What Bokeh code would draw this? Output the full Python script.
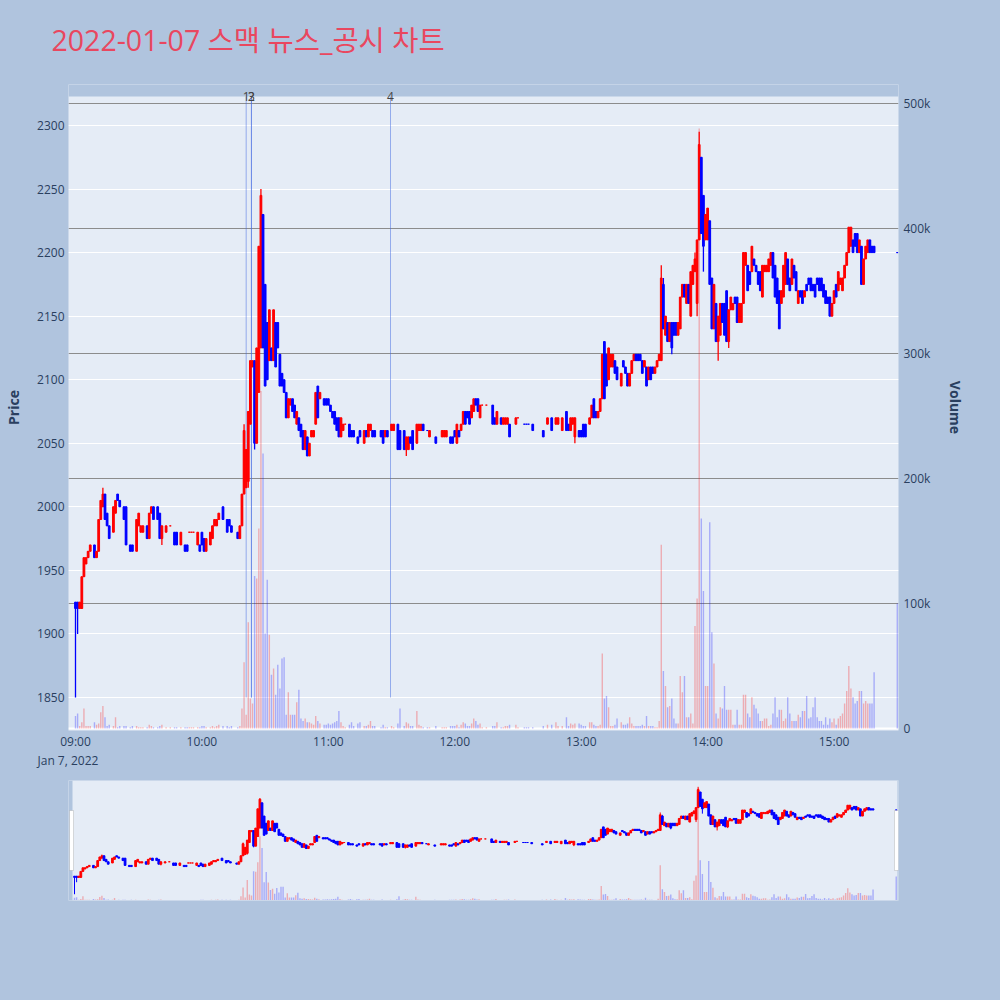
from datetime import datetime, timedelta

from bokeh.embed import file_html
from bokeh.layouts import column
from bokeh.models import (BoxAnnotation, ColumnDataSource, FixedTicker, Label,
                          LinearAxis, Range1d, Title)
from bokeh.plotting import figure
from bokeh.resources import INLINE

# ---------------------------------------------------------------------------
# 1-minute bars for 2022-01-07 (minute = minutes after 09:00)
# prices in KRW, volume in thousands of shares
# ---------------------------------------------------------------------------
minute = [
    0, 1, 2, 3, 4, 5, 6, 7, 9, 10, 11, 12, 13, 14, 15, 16, 18, 19, 20, 21, 23, 24, 26, 27,
    29, 30, 31, 32, 34, 35, 36, 37, 39, 40, 41, 43, 45, 47, 48, 50, 52, 53, 54, 55, 56, 58, 59,
    60, 61, 62, 64, 65, 66, 67, 68, 70, 72, 73, 74, 77, 78, 79, 80, 81, 82, 83, 84, 85, 86,
    87, 88, 89, 90, 91, 92, 93, 94, 95, 96, 97, 98, 99, 100, 101, 102, 103, 104, 105, 106,
    107, 108, 109, 110, 111, 112, 113, 114, 115, 116, 118, 119,
    120, 121, 122, 123, 124, 125, 126, 127, 128, 130, 131, 132, 134, 135, 137, 138, 139, 140,
    141, 142, 145, 146, 147, 148, 150, 151, 153, 154, 156, 157, 158, 159, 160, 162, 163, 164,
    165, 167, 168, 171, 174, 175, 176, 178,
    179, 180, 181, 182, 183, 184, 185, 186, 187, 188, 189, 190, 191, 192, 193, 195, 198, 199,
    200, 202, 203, 204, 205, 206, 209, 210, 213, 214, 215, 217, 222, 224, 226, 228, 229, 231,
    233, 234, 235, 236, 237, 239,
    240, 241, 242, 244, 245, 246, 247, 248, 249, 250, 251, 252, 253, 254, 255, 256, 257, 259,
    260, 261, 262, 263, 264, 265, 266, 267, 268, 269, 270, 271, 272, 273, 274, 275, 276, 277,
    278, 279, 280, 281, 282, 283, 284, 285, 286, 287, 288, 289, 290, 291, 292, 293, 294, 295,
    296, 297, 298, 299, 300, 301, 302, 303, 304, 305, 306, 307, 308, 309, 310, 311, 312, 313,
    314, 315, 316, 317, 318, 319, 320, 321, 322, 323, 324, 325, 326, 327, 328, 329, 330, 331,
    332, 333, 334, 335, 336, 337, 338, 339, 340, 341, 342, 343, 344, 345, 346, 347, 348, 349,
    350, 351, 352, 353, 354, 355,
    356, 357, 358, 359, 360, 361, 362, 363, 364, 365, 366, 367, 368, 369, 370, 371, 372, 373,
    374, 375, 376, 377, 378, 379, 390,
]

open_px = [
    1925, 1925, 1920, 1920, 1945, 1955, 1960, 1965, 1970, 1960, 1965, 1990, 2000, 2010, 1995, 1985,
    1980, 1995, 2010, 2005, 2000, 2000, 1970, 1970, 1965, 1985, 1980, 1980, 1985, 1975, 1995, 2000,
    2000, 1995, 1975, 1980, 1985, 1980, 1980, 1970, 1970, 1970, 1980, 1980, 1980, 1970, 1970,
    1980, 1975, 1965, 1970, 1975, 1985, 1985, 1990, 2000, 1990, 1990, 1985, 1980, 1975, 1985,
    2010, 2015, 2020, 2065, 2110, 2115, 2050, 2090, 2125, 2230, 2175, 2145, 2115, 2125, 2115,
    2145, 2145, 2120, 2105, 2100, 2090, 2070, 2080, 2085, 2080, 2065, 2070, 2065, 2060, 2045,
    2055, 2040, 2055, 2055, 2065, 2095, 2085, 2085, 2085,
    2085, 2080, 2075, 2075, 2070, 2070, 2055, 2060, 2065, 2065, 2060, 2060, 2055, 2060, 2050,
    2060, 2055, 2060, 2060, 2060, 2060, 2060, 2055, 2060, 2060, 2060, 2065, 2060, 2060, 2045,
    2045, 2055, 2060, 2050, 2060, 2060, 2065, 2060, 2055, 2055, 2055, 2055, 2055, 2055,
    2055, 2060, 2050, 2060, 2060, 2065, 2075, 2075, 2075, 2070, 2075, 2085, 2085, 2070, 2080,
    2080, 2080, 2070, 2065, 2070, 2065, 2065, 2065, 2065, 2065, 2070, 2065, 2065, 2065, 2065,
    2060, 2065, 2070, 2065, 2065, 2060, 2075, 2065, 2060, 2065, 2055, 2060,
    2060, 2065, 2065, 2065, 2070, 2085, 2075, 2070, 2075, 2085, 2130, 2120, 2100, 2110, 2110,
    2115, 2110, 2095, 2115, 2110, 2105, 2095, 2105, 2115, 2120, 2120, 2120, 2115, 2110, 2110,
    2100, 2110, 2110, 2105, 2110, 2115, 2115, 2175, 2135, 2145, 2130, 2145, 2145, 2145, 2135,
    2140, 2165, 2175, 2160, 2175, 2150, 2175, 2185, 2160,
    2210, 2275, 2245, 2210, 2210, 2225, 2180, 2140, 2160, 2130, 2135, 2160, 2160, 2170, 2130,
    2155, 2155, 2165, 2165, 2145, 2145, 2160, 2190, 2190, 2185, 2185, 2195, 2190, 2185, 2185,
    2165, 2185, 2185, 2185, 2190, 2200, 2190, 2180, 2170, 2160, 2165, 2175, 2195, 2180, 2175,
    2190, 2185, 2160, 2170, 2170, 2165, 2175, 2180, 2180, 2175, 2175, 2180, 2180, 2180, 2175,
    2170, 2165, 2165, 2150, 2160, 2175, 2170, 2175, 2170, 2180, 2190, 2200, 2205, 2210, 2215,
    2215, 2200, 2205, 2175, 2195, 2200, 2210, 2205, 2205, 2200,
]

close_px = [
    1920, 1920, 1925, 1945, 1960, 1960, 1965, 1970, 1960, 1965, 1990, 2005, 2010, 1990, 1985, 1975,
    2000, 2005, 2005, 2000, 1990, 1970, 1965, 1965, 1990, 1995, 1985, 1985, 1975, 1995, 2000, 1990,
    1990, 1975, 1985, 1985, 1985, 1970, 1970, 1980, 1965, 1965, 1980, 1980, 1980, 1980, 1965,
    1970, 1965, 1975, 1980, 1985, 1990, 1990, 1995, 1990, 1980, 1985, 1980, 1975, 1985, 2010,
    2060, 2045, 2075, 2115, 2115, 2050, 2125, 2205, 2245, 2125, 2095, 2100, 2155, 2115, 2155,
    2110, 2125, 2095, 2095, 2090, 2070, 2085, 2085, 2075, 2070, 2075, 2060, 2055, 2045, 2060,
    2040, 2050, 2060, 2060, 2090, 2070, 2090, 2080, 2080,
    2080, 2075, 2070, 2065, 2060, 2055, 2070, 2065, 2065, 2055, 2055, 2055, 2050, 2055, 2060,
    2055, 2065, 2065, 2055, 2055, 2055, 2050, 2060, 2055, 2065, 2065, 2045, 2045, 2045, 2055,
    2055, 2050, 2045, 2065, 2065, 2065, 2060, 2060, 2060, 2050, 2060, 2060, 2060, 2050,
    2050, 2055, 2065, 2055, 2065, 2075, 2065, 2070, 2065, 2080, 2085, 2080, 2075, 2080, 2080,
    2080, 2065, 2065, 2075, 2065, 2070, 2070, 2070, 2055, 2070, 2070, 2065, 2065, 2065, 2060,
    2055, 2070, 2060, 2070, 2070, 2070, 2060, 2060, 2070, 2070, 2070, 2055,
    2055, 2055, 2055, 2070, 2080, 2070, 2070, 2075, 2085, 2120, 2085, 2095, 2125, 2120, 2120,
    2105, 2100, 2105, 2110, 2105, 2095, 2105, 2115, 2120, 2115, 2115, 2115, 2105, 2115, 2095,
    2110, 2100, 2105, 2110, 2115, 2120, 2180, 2140, 2150, 2130, 2145, 2125, 2135, 2135, 2145,
    2165, 2175, 2165, 2175, 2160, 2185, 2190, 2195, 2210,
    2285, 2215, 2205, 2230, 2235, 2175, 2140, 2175, 2130, 2150, 2160, 2145, 2135, 2130, 2155,
    2165, 2160, 2160, 2145, 2160, 2160, 2200, 2200, 2170, 2175, 2205, 2190, 2185, 2175, 2170,
    2190, 2190, 2190, 2195, 2200, 2180, 2165, 2160, 2140, 2170, 2190, 2200, 2175, 2170, 2195,
    2180, 2170, 2170, 2165, 2160, 2170, 2170, 2175, 2170, 2170, 2165, 2175, 2170, 2170, 2165,
    2160, 2160, 2150, 2160, 2170, 2165, 2185, 2180, 2180, 2190, 2200, 2220, 2220, 2200, 2205,
    2200, 2210, 2175, 2195, 2205, 2210, 2200, 2200, 2200, 2200,
]

volume_k = [
    10, 12, 2, 5, 16, 2, 2, 2, 5, 3, 4, 13, 18, 9, 2, 3, 2, 9, 1, 2, 2, 2, 1, 2,
    2, 1, 1, 1, 1, 3, 2, 1, 1, 2, 3, 1, 1, 1, 1, 1, 1, 1, 1, 1, 1, 1, 1,
    2, 2, 1, 1, 2, 1, 2, 3, 2, 2, 1, 2, 1, 2, 16, 53, 11, 85, 24, 20, 122, 120,
    160, 270, 220, 76, 119, 75, 43, 48, 27, 51, 32, 56, 57, 11, 29, 11, 11, 11, 21, 31,
    8, 6, 8, 5, 5, 4, 3, 10, 6, 4, 3, 3,
    4, 3, 4, 5, 6, 14, 5, 2, 1, 3, 5, 2, 4, 5, 2, 2, 3, 6,
    2, 2, 1, 3, 1, 1, 2, 1, 4, 16, 2, 5, 4, 2, 2, 14, 3, 2,
    1, 1, 1, 2, 1, 1, 1, 2,
    2, 2, 3, 1, 3, 5, 4, 2, 2, 4, 8, 6, 3, 4, 1, 1, 2, 2,
    5, 1, 1, 2, 2, 3, 3, 1, 1, 1, 1, 1, 2, 3, 3, 5, 2, 2,
    9, 2, 4, 3, 4, 4,
    3, 2, 2, 5, 5, 3, 2, 2, 3, 60, 24, 26, 17, 2, 2, 3, 8, 5,
    3, 3, 4, 9, 4, 2, 2, 2, 2, 3, 2, 10, 2, 2, 2, 1, 1, 6,
    147, 46, 34, 17, 18, 24, 8, 4, 4, 42, 29, 42, 9, 9, 12, 4, 82, 104,
    480, 168, 110, 34, 34, 165, 77, 52, 12, 8, 17, 16, 34, 15, 15, 15, 3, 3,
    15, 3, 3, 27, 27, 12, 9, 25, 19, 16, 12, 6, 6, 8, 8, 2, 3, 12,
    25, 9, 15, 15, 6, 8, 25, 12, 6, 6, 6, 11, 9, 14, 14, 26, 8, 9,
    17, 25, 9, 6, 6, 3,
    9, 3, 8, 5, 8, 3, 8, 10, 12, 20, 30, 50, 32, 25, 20, 22, 30, 30,
    20, 22, 20, 20, 20, 45, 100,
]

# traded extremes that reach beyond the candle body
wick_high = {13: 2015, 80: 2065, 88: 2250, 278: 2190, 279: 2180, 294: 2200, 296: 2295}
wick_low = {0: 1850, 1: 1900, 41: 1970, 82: 2015, 85: 2045, 157: 2040, 237: 2050,
            283: 2120, 295: 2150, 298: 2185, 305: 2115, 310: 2125}

# news / disclosure markers
news_times = ["10:21:00", "10:23:30", "10:23:30", "11:29:30"]
news_labels = ["1", "2", "3", "4"]

price_ticks = [1850, 1900, 1950, 2000, 2050, 2100, 2150, 2200, 2250, 2300]
volume_ticks = [0, 100000, 200000, 300000, 400000, 500000]
volume_tick_labels = ["0", "100k", "200k", "300k", "400k", "500k"]
hour_labels = ["09:00", "10:00", "11:00", "12:00", "13:00", "14:00", "15:00"]

assert len(minute) == len(open_px) == len(close_px) == len(volume_k)

# ---------------------------------------------------------------------------
EPOCH = datetime(1970, 1, 1)
DAY = datetime(2022, 1, 7)
SESSION_OPEN = datetime(2022, 1, 7, 9, 0)
UP, DOWN = "#FF0000", "#0000FF"
PAGE_BG, PLOT_BG = "#B0C4DE", "#E5ECF6"
FONT, INK = "Open Sans", "#2a3f5f"


def to_ms(dt):
    return (dt - EPOCH).total_seconds() * 1000.0


def clock_ms(text):
    parts = [int(v) for v in text.split(":")] + [0]
    return to_ms(DAY + timedelta(hours=parts[0], minutes=parts[1], seconds=parts[2]))


def after_open(minutes):
    return to_ms(SESSION_OPEN + timedelta(minutes=minutes))


# candle direction: a flat bar keeps the direction implied by the previous close
t_ms, highs, lows, tops, bottoms, colors = [], [], [], [], [], []
prev_close, prev_up = None, True
for m, o, c in zip(minute, open_px, close_px):
    t_ms.append(after_open(m))
    highs.append(max(o, c, wick_high.get(m, o)))
    lows.append(min(o, c, wick_low.get(m, o)))
    tops.append(max(o, c))
    bottoms.append(min(o, c))
    if c > o:
        up = True
    elif c < o:
        up = False
    elif prev_close is not None and c != prev_close:
        up = c > prev_close
    else:
        up = prev_up
    colors.append(UP if up else DOWN)
    prev_close, prev_up = c, up

src = ColumnDataSource(dict(t=t_ms, high=highs, low=lows, top=tops, bottom=bottoms,
                            color=colors, vol=[v * 1000 for v in volume_k]))

# the plotting area ends at 2322.8; the frame runs higher so the marker
# numbers above it fit inside, and that strip is painted page colour
price_view_top = 2322.8
price_range = (1824.0, 2332.26)
volume_range = (-1600, 515200)


def add_bars(fig, body_ms, wick_w, vol_w_ms):
    fig.vbar(x="t", top="vol", bottom=0, width=vol_w_ms, source=src, y_range_name="vol",
             fill_color="color", fill_alpha=0.27, line_color=None)
    fig.segment(x0="t", x1="t", y0="low", y1="high", source=src,
                line_color="color", line_width=wick_w)
    fig.vbar(x="t", top="top", bottom="bottom", width=body_ms, source=src,
             fill_color="color", line_color="color", line_width=1)


# ---------------------------------------------------------------------------
# heading band
# ---------------------------------------------------------------------------
head = figure(width=1000, height=84, output_backend="svg", toolbar_location=None,
              x_axis_location=None, y_axis_location=None,
              x_range=Range1d(0, 1), y_range=Range1d(0, 1),
              min_border_left=68, min_border_right=102, min_border_top=0, min_border_bottom=0,
              background_fill_color=PAGE_BG, border_fill_color=PAGE_BG, outline_line_color=None)
head.grid.visible = False
head.title.text = "2022-01-07 스맥 뉴스_공시 차트"
head.title.align = "left"
head.title.offset = -17
head.title.standoff = 36
head.title.text_font = "Open Sans, Noto Sans CJK KR"
head.title.text_font_size = "28.5px"
head.title.text_font_style = "normal"
head.title.text_color = "#E9475F"

# ---------------------------------------------------------------------------
# main price / volume panel
# ---------------------------------------------------------------------------
main_x = (after_open(-3.32), after_open(390.58))
p = figure(width=1000, height=686, output_backend="svg", toolbar_location=None, title=None,
           x_range=Range1d(*main_x), y_range=Range1d(*price_range),
           min_border_left=68, min_border_right=102, min_border_top=0, min_border_bottom=40,
           background_fill_color=PLOT_BG, border_fill_color=PAGE_BG, outline_line_color=None)
p.extra_y_ranges = {"vol": Range1d(*volume_range)}

p.xgrid.visible = False
p.ygrid.ticker = FixedTicker(ticks=price_ticks)
p.ygrid.grid_line_color = "white"
p.ygrid.grid_line_width = 1

p.hspan(y=volume_ticks[1:], y_range_name="vol", line_color="#8c8c8c", line_width=1.2,
        level="underlay")
p.hspan(y=[0], y_range_name="vol", line_color="white", line_width=2, level="underlay")

hour_ms = [int(clock_ms(h)) for h in hour_labels]
p.xaxis.ticker = FixedTicker(ticks=hour_ms)
p.xaxis.major_label_overrides = {t: lbl for t, lbl in zip(hour_ms, hour_labels)}
p.yaxis.ticker = FixedTicker(ticks=price_ticks)
p.yaxis.axis_label = "Price"

vol_axis = LinearAxis(y_range_name="vol", ticker=FixedTicker(ticks=volume_ticks),
                      axis_label="Volume",
                      major_label_overrides={v: s for v, s in zip(volume_ticks, volume_tick_labels)})
p.add_layout(vol_axis, "right")

for ax in p.axis:
    ax.axis_line_color = None
    ax.major_tick_line_color = None
    ax.minor_tick_line_color = None
    ax.major_tick_out = 0
    ax.major_tick_in = 0
    ax.minor_tick_out = 0
    ax.minor_tick_in = 0
    ax.major_label_text_font = FONT
    ax.major_label_text_font_size = "12px"
    ax.major_label_text_color = INK
    ax.axis_label_text_font = FONT
    ax.axis_label_text_font_size = "14px"
    ax.axis_label_text_font_style = "bold"
    ax.axis_label_text_color = INK
p.xaxis.major_label_standoff = 2
p.yaxis.major_label_standoff = 4
p.yaxis.axis_label_standoff = 11
vol_axis.major_label_standoff = 5
vol_axis.axis_label_standoff = 13

p.add_layout(Title(text="Jan 7, 2022", align="left", offset=-31, standoff=-6,
                   text_font=FONT, text_font_size="12px", text_font_style="normal",
                   text_color=INK), "below")

news_ms = [clock_ms(t) for t in news_times]
p.segment(x0=news_ms, x1=news_ms, y0=[1850] * len(news_ms),
          y1=[price_view_top] * len(news_ms),
          line_color="royalblue", line_alpha=0.5, line_width=1)

add_bars(p, body_ms=50000, wick_w=1.3, vol_w_ms=40000)

# page-coloured strip above the plotting area, under the marker numbers
p.quad(left=[main_x[0]], right=[main_x[1]], bottom=[price_view_top], top=[price_range[1]],
       fill_color=PAGE_BG, fill_alpha=1, line_color=None)

for t, lbl in zip(news_ms, news_labels):
    p.add_layout(Label(x=t, y=price_view_top, text=lbl, text_align="center",
                       text_baseline="middle", text_font=FONT, text_font_size="12px",
                       text_color="#444444"))

# ---------------------------------------------------------------------------
# overview strip underneath (frame shares the main panel's left/right edges)
# ---------------------------------------------------------------------------
strip_x = (after_open(-2.85), after_open(391.08))
strip_start, strip_end = after_open(-0.95), after_open(390.6)
s = figure(width=1000, height=230, output_backend="svg", toolbar_location=None,
           x_range=Range1d(*strip_x),
           y_range=Range1d(price_range[0], price_view_top), x_axis_location=None,
           y_axis_location=None,
           min_border_left=68, min_border_right=102, min_border_top=10, min_border_bottom=100,
           background_fill_color=PLOT_BG, border_fill_color=PAGE_BG, outline_line_color=None)
s.extra_y_ranges = {"vol": Range1d(-1600, 505600)}
s.grid.visible = False
add_bars(s, body_ms=50000, wick_w=1, vol_w_ms=40000)
s.quad(left=[strip_x[0], strip_end], right=[strip_start, strip_x[1]],
       bottom=[price_range[0]] * 2, top=[price_view_top] * 2,
       fill_color=PAGE_BG, fill_alpha=1, line_color=None)

for left in (1, 826):
    s.add_layout(BoxAnnotation(left=left, right=left + 4, bottom=30, top=90,
                               left_units="screen", right_units="screen",
                               bottom_units="screen", top_units="screen",
                               fill_color="white", fill_alpha=1,
                               line_color="#8c8c8c", line_width=1))

layout = column(head, p, s, spacing=0, styles={"background-color": PAGE_BG})

with open("out.html", "w") as f:
    f.write(file_html(layout, INLINE))
